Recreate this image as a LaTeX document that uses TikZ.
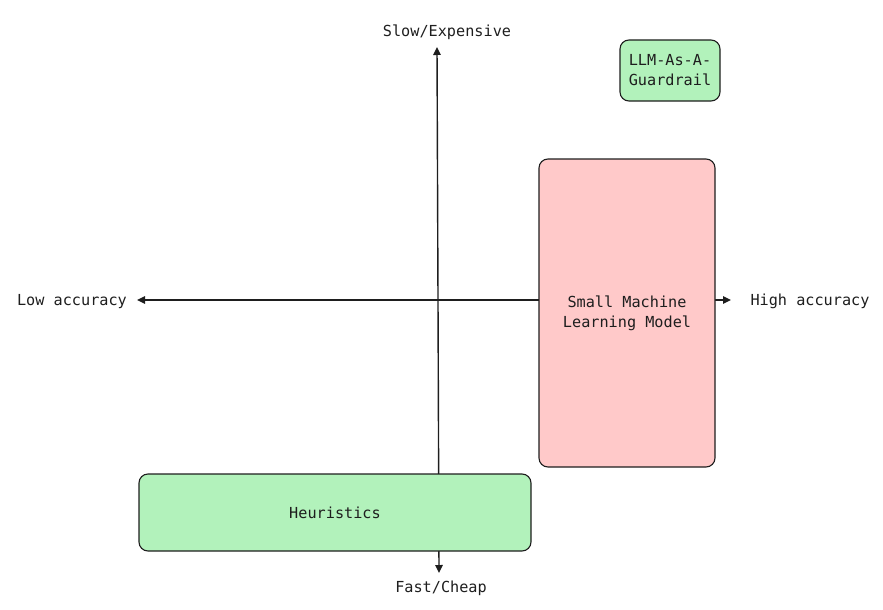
\documentclass[tikz,border=0pt]{standalone}
\usepackage{fontspec}
\setmonofont{DejaVu Sans Mono}
\usepackage{xcolor}
\usetikzlibrary{arrows.meta,positioning}
\definecolor{inkdark}{HTML}{1E1E1E}
\definecolor{mintfill}{HTML}{B2F2BB}
\definecolor{rosefill}{HTML}{FFC9C9}

\begin{document}
\begin{tikzpicture}[
  x=1pt, y=-1pt,
  font=\ttfamily\fontsize{15.2}{20}\selectfont,
  mintbox/.style={draw=inkdark, fill=mintfill, rounded corners=9pt, align=center,
    line width=1.1pt, inner sep=0pt, text=inkdark},
  rosebox/.style={draw=inkdark, fill=rosefill, rounded corners=9pt, align=center,
    line width=1.1pt, inner sep=0pt, text=inkdark},
  axislabel/.style={text=inkdark, inner sep=0pt},
  axis/.style={-{Triangle[length=8pt,width=7.5pt]}, line width=1.4pt, inkdark}
]
\useasboundingbox (0,0) rectangle (883,610);
% axes
\coordinate (origin) at (438,300);
\coordinate (uptip) at (437,47);
\coordinate (downtip) at (439,573);
\coordinate (lefttip) at (137,300);
\coordinate (righttip) at (731,300);
\draw[axis] (origin) -- (uptip);
\draw[axis] (origin) -- (downtip);
\draw[axis] (origin) -- (lefttip);
\draw[axis] (origin) -- (righttip);
% axis labels
\node[axislabel] (slow) at (447,32) {Slow/Expensive};
\node[axislabel] (fast) at (441,588) {Fast/Cheap};
\node[axislabel] (low) at (72,302) {Low accuracy};
\node[axislabel] (high) at (810,301) {High accuracy};
% approaches
\node[mintbox, minimum width=392pt, minimum height=77pt] (heur) at (335,512.5) {Heuristics};
\node[rosebox, minimum width=176pt, minimum height=308pt] (smallml) at (627,313)
  {Small Machine\\Learning Model};
\node[mintbox, minimum width=100pt, minimum height=61pt] (guard) at (670,70.5)
  {LLM-As-A-\\Guardrail};
\end{tikzpicture}
\end{document}
